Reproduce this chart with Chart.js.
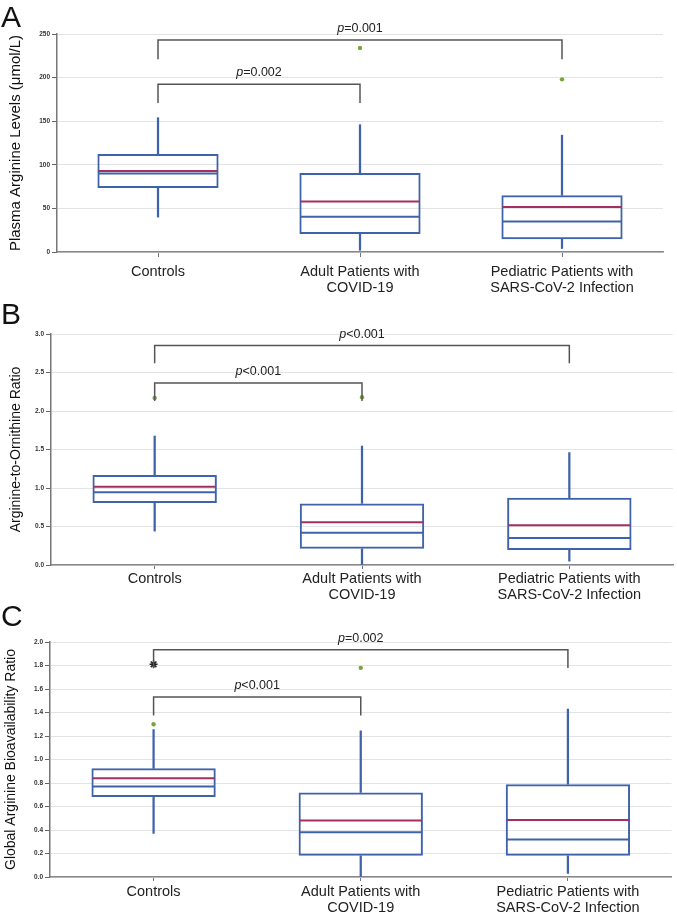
<!DOCTYPE html>
<html>
<head>
<meta charset="utf-8">
<script src="https://cdn.jsdelivr.net/npm/chart.js@4.4.1/dist/chart.umd.min.js"></script>
<style>
  body { margin: 0; background: #fff; }
  #page { position: relative; width: 677px; height: 922px; overflow: hidden; font-family: "Liberation Sans", Arial, sans-serif; }
  .panel { position: absolute; left: 0; }
  .letter { position: absolute; left: 1px; font-size: 30px; line-height: 30px; color: #111; z-index: 2; }
</style>
</head>
<body>
<div id="page">
  <div class="panel" style="top:0px"><canvas id="chartA" width="677" height="300"></canvas></div>
  <div class="panel" style="top:300px"><canvas id="chartB" width="677" height="305"></canvas></div>
  <div class="panel" style="top:605px"><canvas id="chartC" width="677" height="317"></canvas></div>
  <div class="letter" style="top:2px">A</div>
  <div class="letter" style="top:299px">B</div>
  <div class="letter" style="top:601px">C</div>
</div>
<script>
// groups on the x axis
const categories = ['Controls', ['Adult Patients with', 'COVID-19'], ['Pediatric Patients with', 'SARS-CoV-2 Infection']];

// A - plasma arginine (umol/L)
const argTicks = [0, 50, 100, 150, 200, 250];
const argMin = [40, 2, 4];
const argQ1 = [73.5, 20.5, 14.5];
const argMedian = [90, 40.5, 35];
const argMean = [93, 58, 51.5];
const argQ3 = [112.5, 90.5, 65];
const argMax = [154, 146, 134];
const argOutliers = [null, 234, 198];
const argBrackets = [[0, 2, 243, 221, '=0.001'], [0, 1, 192.5, 171, '=0.002']];

// B - arginine-to-ornithine ratio
const aoTicks = [0, 0.5, 1, 1.5, 2, 2.5, 3];
const aoMin = [0.44, 0, 0.05];
const aoQ1 = [0.805, 0.21, 0.195];
const aoMedian = [0.945, 0.42, 0.35];
const aoMean = [1.015, 0.555, 0.515];
const aoQ3 = [1.17, 0.8, 0.875];
const aoMax = [1.675, 1.545, 1.46];
const aoOutliers = [2.17, 2.18, null];
const aoBrackets = [[0, 2, 2.85, 2.62, '<0.001'], [0, 1, 2.365, 2.13, '<0.001']];

// C - global arginine bioavailability ratio
const gabrTicks = [0, 0.2, 0.4, 0.6, 0.8, 1, 1.2, 1.4, 1.6, 1.8, 2];
const gabrMin = [0.37, 0, 0.03];
const gabrQ1 = [0.68, 0.18, 0.18];
const gabrMedian = [0.77, 0.38, 0.32];
const gabrMean = [0.84, 0.48, 0.485];
const gabrQ3 = [0.925, 0.72, 0.79];
const gabrMax = [1.255, 1.245, 1.43];
const gabrOutliers = [1.30, 1.78, null];
const gabrExtreme = [1.81, null, null];
const gabrBrackets = [[0, 2, 1.933, 1.779, '=0.002'], [0, 1, 1.532, 1.375, '<0.001']];

const BLUE = '#3f63aa';
const MEAN = '#a3305e';
const GREEN = '#7ba53a';
const FONT = '"Liberation Sans", Arial, sans-serif';

// median / mean lines and the p-value brackets
function overlay(d) {
  return {
    id: 'overlay',
    afterDatasetsDraw(chart) {
      const { ctx, scales: { x, y } } = chart;
      const boxes = chart.getDatasetMeta(0).data;
      ctx.save();
      ctx.lineWidth = 2;
      [[d.mean, MEAN], [d.median, BLUE]].forEach(([vals, col]) => {
        ctx.strokeStyle = col;
        vals.forEach((v, i) => {
          const b = boxes[i], py = y.getPixelForValue(v);
          ctx.beginPath();
          ctx.moveTo(b.x - b.width / 2 + 1, py);
          ctx.lineTo(b.x + b.width / 2 - 1, py);
          ctx.stroke();
        });
      });
      ctx.strokeStyle = '#555';
      ctx.lineWidth = 1.5;
      ctx.fillStyle = '#222';
      ctx.textAlign = 'left';
      ctx.textBaseline = 'alphabetic';
      d.brackets.forEach(([from, to, top, drop, txt]) => {
        const x1 = x.getPixelForValue(from), x2 = x.getPixelForValue(to);
        const yt = y.getPixelForValue(top), yd = y.getPixelForValue(drop);
        ctx.beginPath();
        ctx.moveTo(x1, yd); ctx.lineTo(x1, yt); ctx.lineTo(x2, yt); ctx.lineTo(x2, yd);
        ctx.stroke();
        ctx.font = 'italic 12.5px ' + FONT;
        const pw = ctx.measureText('p').width;
        ctx.font = '12.5px ' + FONT;
        const rw = ctx.measureText(txt).width;
        const sx = (x1 + x2) / 2 - (pw + rw) / 2;
        ctx.font = 'italic 12.5px ' + FONT;
        ctx.fillText('p', sx, yt - 8);
        ctx.font = '12.5px ' + FONT;
        ctx.fillText(txt, sx + pw, yt - 8);
      });
      ctx.restore();
    }
  };
}

function boxChart(id, d, look) {
  const datasets = [
    { data: d.q1.map((v, i) => [v, d.q3[i]]), backgroundColor: 'rgba(0,0,0,0)', borderColor: BLUE,
      borderWidth: 2, borderSkipped: false, barPercentage: 0.6, categoryPercentage: 1, grouped: false },
    { data: d.q3.map((v, i) => [v, d.max[i]]), backgroundColor: BLUE, borderWidth: 0, barThickness: 1.6, grouped: false },
    { data: d.min.map((v, i) => [v, d.q1[i]]), backgroundColor: BLUE, borderWidth: 0, barThickness: 1.6, grouped: false },
    { type: 'line', data: d.outliers, showLine: false, pointRadius: 2.2, pointBackgroundColor: GREEN, pointBorderWidth: 0 }
  ];
  if (d.extreme) {
    datasets.push({ type: 'line', data: d.extreme, showLine: false, pointStyle: 'star', pointRadius: 4,
      pointBorderColor: '#222', pointBorderWidth: 1.5 });
  }
  return new Chart(document.getElementById(id), {
    type: 'bar',
    data: { labels: categories, datasets },
    plugins: [overlay(d)],
    options: {
      responsive: false,
      animation: false,
      layout: { padding: { top: look.top, right: look.right, left: 0, bottom: 0 } },
      plugins: { legend: { display: false }, tooltip: { enabled: false } },
      scales: {
        x: {
          afterFit: s => { s.height = look.below; },
          grid: { display: true, drawOnChartArea: false, offset: false, tickLength: look.tick, tickColor: '#777' },
          border: { color: '#888', width: 1.5 },
          ticks: { font: { size: 14.5, family: FONT, lineHeight: 1.12 }, color: '#222', padding: look.pad, maxRotation: 0, autoSkip: false }
        },
        y: {
          min: 0,
          max: d.ticks[d.ticks.length - 1],
          afterFit: s => { s.width = look.left; },
          afterBuildTicks: s => { s.ticks = d.ticks.map(v => ({ value: v })); },
          grid: { color: '#e4e4e4', lineWidth: 1, tickLength: 5, tickColor: '#666' },
          border: { color: '#777', width: 1.5 },
          ticks: { font: { size: 6.5, weight: 'bold', family: FONT }, color: '#333', padding: 2,
            callback: v => v.toFixed(d.decimals) },
          title: { display: true, text: d.title, color: '#111', font: { size: look.titleSize, family: FONT },
            padding: { top: look.titlePad, bottom: 0 } }
        }
      }
    }
  });
}

boxChart('chartA', {
  ticks: argTicks, decimals: 0, title: 'Plasma Arginine Levels (\u03bcmol/L)',
  min: argMin, q1: argQ1, median: argMedian, mean: argMean, q3: argQ3, max: argMax,
  outliers: argOutliers, brackets: argBrackets
}, { top: 34, right: 14, below: 48, left: 57, tick: 5, pad: 7, titleSize: 15, titlePad: 7 });

boxChart('chartB', {
  ticks: aoTicks, decimals: 1, title: 'Arginine-to-Ornithine Ratio',
  min: aoMin, q1: aoQ1, median: aoMedian, mean: aoMean, q3: aoQ3, max: aoMax,
  outliers: aoOutliers, brackets: aoBrackets
}, { top: 34, right: 3, below: 40, left: 51, tick: 4, pad: 2, titleSize: 14, titlePad: 7.6 });

boxChart('chartC', {
  ticks: gabrTicks, decimals: 1, title: 'Global Arginine Bioavailability Ratio',
  min: gabrMin, q1: gabrQ1, median: gabrMedian, mean: gabrMean, q3: gabrQ3, max: gabrMax,
  outliers: gabrOutliers, extreme: gabrExtreme, brackets: gabrBrackets
}, { top: 37, right: 3, below: 45, left: 50, tick: 4, pad: 3, titleSize: 14, titlePad: 2.6 });
</script>
</body>
</html>
